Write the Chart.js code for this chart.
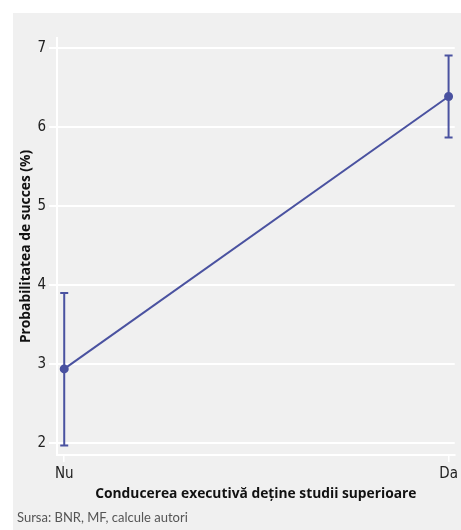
<!DOCTYPE html>
<html>
<head>
<meta charset="utf-8">
<script src="https://cdn.jsdelivr.net/npm/chart.js@4"></script>
<style>
  body { margin: 0; background: #fff; }
  #box { position: absolute; left: 13px; top: 13px; width: 448px; height: 517px; background: #f0f0f0; }
  #chart { position: absolute; left: 0; top: 0; }
  #source { position: absolute; left: 4px; top: 496px; font-family: Lato, sans-serif; font-size: 13px; color: #555; }
</style>
</head>
<body>
<div id="box">
  <canvas id="chart" width="448" height="517"></canvas>
  <div id="source">Sursa: BNR, MF, calcule autori</div>
</div>
<script>
// Data
const categories = ['Nu', 'Da'];
const probability = [2.94, 6.39];
const errLow = [1.97, 5.87];
const errHigh = [3.90, 6.91];
const yTicks = [2, 3, 4, 5, 6, 7];

const lineColor = '#4a52a0';

// Error bars drawn from the scales
const errorBars = {
    id: 'errorBars',
    afterDatasetsDraw(chart) {
        const ctx = chart.ctx;
        const x = chart.scales.x;
        const y = chart.scales.y;
        ctx.save();
        ctx.strokeStyle = lineColor;
        ctx.lineWidth = 2;
        categories.forEach((c, i) => {
            const px = x.getPixelForValue(i);
            const top = y.getPixelForValue(errHigh[i]);
            const bot = y.getPixelForValue(errLow[i]);
            ctx.beginPath();
            ctx.moveTo(px, top);
            ctx.lineTo(px, bot);
            ctx.moveTo(px - 4, top);
            ctx.lineTo(px + 4, top);
            ctx.moveTo(px - 4, bot);
            ctx.lineTo(px + 4, bot);
            ctx.stroke();
        });
        ctx.restore();
    }
};

const tickFont = { family: "'Liberation Sans Narrow', 'DejaVu Sans Condensed', sans-serif", size: 15 };
const titleFont = { family: "'Open Sans', sans-serif", size: 13.8, weight: 'bold', lineHeight: 1.2 };

new Chart(document.getElementById('chart'), {
    type: 'line',
    data: {
        datasets: [{
            data: categories.map((c, i) => ({ x: i, y: probability[i] })),
            borderColor: lineColor,
            backgroundColor: lineColor,
            borderWidth: 2,
            pointRadius: 3.5,
            pointHoverRadius: 3.5
        }]
    },
    options: {
        responsive: false,
        animation: false,
        layout: { padding: { top: 25, right: 3, bottom: 28, left: 0 } },
        plugins: { legend: { display: false }, tooltip: { enabled: false } },
        scales: {
            x: {
                type: 'linear',
                min: -0.0188,
                max: 1.016,
                afterBuildTicks: s => { s.ticks = categories.map((c, i) => ({ value: i })); },
                afterFit: s => { s.height = 47; },
                ticks: { callback: v => categories[v], color: '#222', font: tickFont, padding: 3 },
                grid: { drawOnChartArea: false, color: '#fff', lineWidth: 1.5, tickLength: 7 },
                border: { color: '#fff', width: 2 },
                title: { display: true, text: 'Conducerea executivă deține studii superioare', color: '#111', font: titleFont, padding: { top: 0, bottom: 0 } }
            },
            y: {
                min: 1.85,
                max: 7.13,
                afterBuildTicks: s => { s.ticks = yTicks.map(v => ({ value: v })); },
                afterFit: s => { s.width = 44; },
                ticks: { color: '#222', font: tickFont, padding: 3 },
                grid: { color: '#fff', lineWidth: 2, tickLength: 8 },
                border: { color: '#fff', width: 2 },
                title: { display: true, text: 'Probabilitatea de succes (%)', color: '#111', font: titleFont, padding: { top: 5, bottom: 0 } }
            }
        }
    },
    plugins: [errorBars]
});
</script>
</body>
</html>
